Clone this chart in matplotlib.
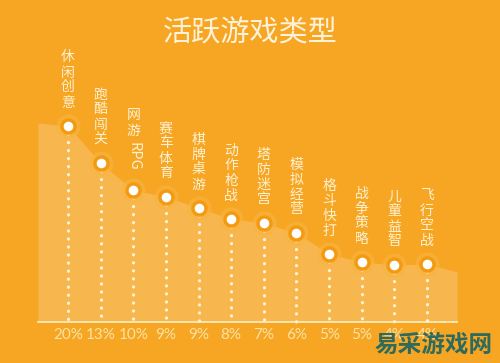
import matplotlib
matplotlib.use("Agg")
import matplotlib.pyplot as plt

# data
labels = ["休闲创意", "跑酷闯关", "网游RPG", "赛车体育", "棋牌桌游", "动作枪战",
          "塔防迷宫", "模拟经营", "格斗快打", "战争策略", "儿童益智", "飞行空战"]
shares = [20, 13, 10, 9, 9, 8, 7, 6, 5, 5, 4, 4]
# height of the curve above the baseline (drawn, not proportional to shares)
levels = [196, 159, 132, 125, 114, 103, 99, 89, 68, 60, 57, 58]
edge_levels = [199, 50]   # area edge at left / right end

BG = "#F6A623"
CREAM = "#FEF1D2"
CJK = ["Noto Sans CJK SC", "DejaVu Sans"]

fig = plt.figure(figsize=(5.0, 3.63), dpi=100, facecolor=BG)
ax = fig.add_axes([0, 0, 1, 1])
ax.set_facecolor(BG)
ax.set_xlim(-2.083, 13.235)
ax.set_ylim(-41, 322)
ax.axis("off")

n = len(levels)
xs = list(range(n))
pad = 0.92

# light area under the curve
ax_x = [-pad] + xs + [n - 1 + pad]
ax_y = [edge_levels[0]] + levels + [edge_levels[1]]
ax.fill_between(ax_x, ax_y, 0, color="white", alpha=0.2, lw=0, zorder=1)

# baseline
ax.plot([-pad, n - 1 + pad], [0, 0], color="#FCE9B8", lw=1.3, zorder=2)

# dotted drop lines
for x, y in zip(xs, levels):
    ax.plot([x, x], [y, 0], color=CREAM, lw=2.4, linestyle=(0, (0.01, 2.4)),
            dash_capstyle="round", zorder=3)

# markers: glow, ring, white centre
ax.scatter(xs, levels, s=300, color="#F8B440", alpha=0.6, lw=0, zorder=4)
ax.scatter(xs, levels, s=140, color="#F39A10", lw=0, zorder=5)
ax.scatter(xs, levels, s=48, color="white", lw=0, zorder=6)

# vertical category labels, stacked from the bottom up
for x, y, lab in zip(xs, levels, labels):
    tokens = []
    run = ""
    for ch in lab:
        if ch.isascii():
            run += ch
        else:
            if run:
                tokens.append(run); run = ""
            tokens.append(ch)
    if run:
        tokens.append(run)
    off = 16
    for tok in reversed(tokens):
        if tok.isascii():
            h = 12 * len(tok)
            ax.annotate(tok, (x, y), xytext=(0, off + h / 2), textcoords="offset pixels",
                        ha="center", va="center", rotation=-90, fontsize=10.5,
                        color=CREAM, family=CJK, zorder=7)
        else:
            h = 15
            ax.annotate(tok, (x, y), xytext=(0, off + h / 2), textcoords="offset pixels",
                        ha="center", va="center", fontsize=10,
                        color=CREAM, family=CJK, zorder=7)
        off += h

# percentage labels under the baseline
for x, s in zip(xs, shares):
    ax.annotate(f"{s}%", (x, 0), xytext=(0, -13), textcoords="offset pixels",
                ha="center", va="center", fontsize=11, color="#FCE3A6",
                family=["Lato", "DejaVu Sans"], zorder=7)

fig.text(0.5, 1 - 33 / 363, "活跃游戏类型", ha="center", va="center",
         fontsize=21, color="#FEF3DA", family=CJK, fontweight="light")

# watermark
fig.text(434 / 500, 1 - 345 / 363, "易采游戏网", ha="center", va="center",
         fontsize=17, color="#2F6A5C", family=CJK, fontweight="bold", zorder=10)

fig.savefig("out.png", dpi=100, facecolor=BG)
